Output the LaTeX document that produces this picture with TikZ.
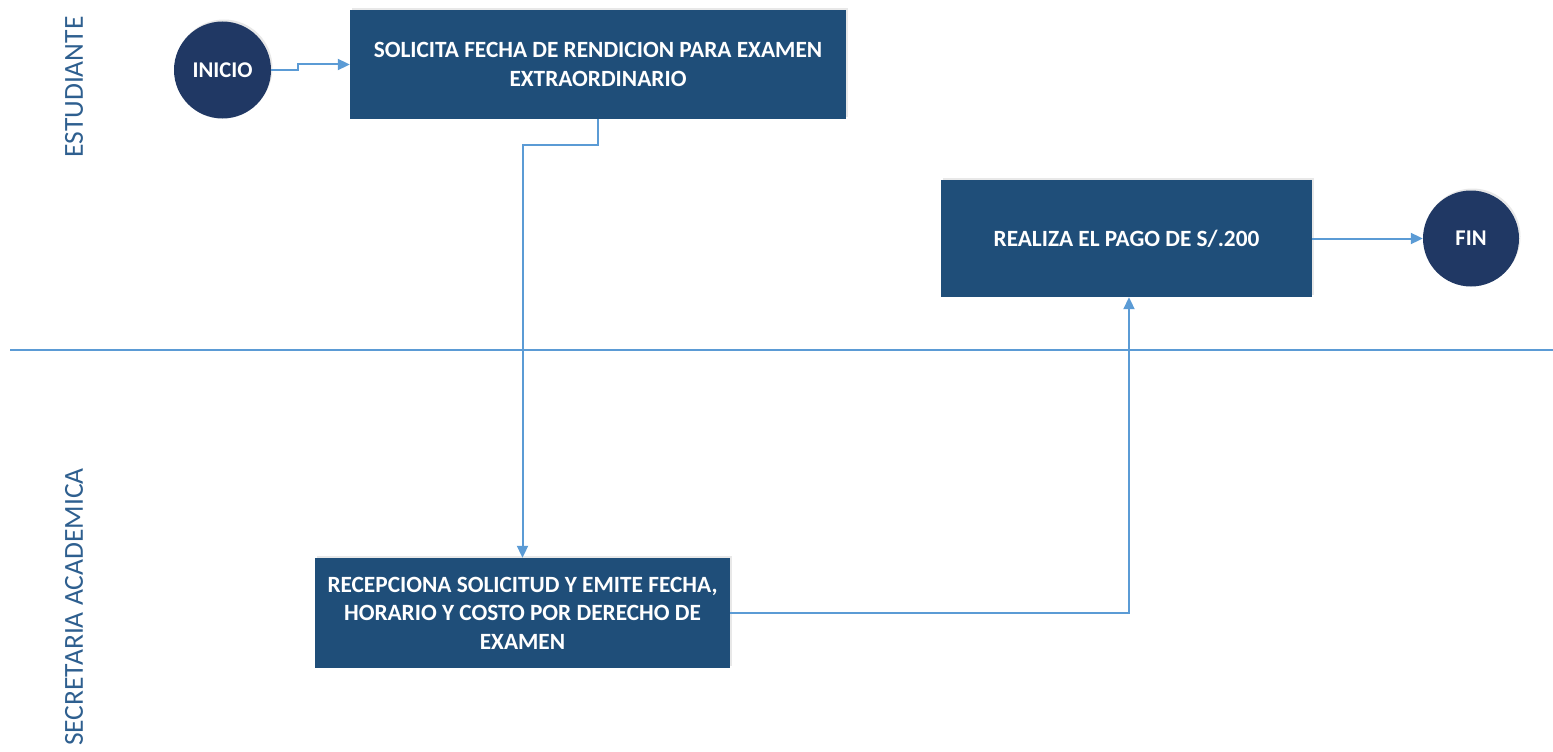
\documentclass[tikz,border=0pt]{standalone}
\usepackage{fontspec}
\setmainfont{Carlito}
\usetikzlibrary{arrows.meta,shadows}
\definecolor{boxblue}{HTML}{1F4E79}
\definecolor{termblue}{HTML}{203864}
\definecolor{linkblue}{HTML}{5B9BD5}
\definecolor{lanetext}{HTML}{2E5F8F}
\tikzset{
  procbox/.style={rectangle, fill=boxblue, text=white, align=center,
    font=\bfseries\fontsize{23.3}{28.5}\selectfont, inner sep=0pt,
    drop shadow={opacity=0.18, shadow xshift=1.5pt, shadow yshift=2pt}},
  terminal/.style={circle, fill=termblue, text=white, inner sep=0pt,
    font=\bfseries\fontsize{22.5}{24}\selectfont,
    drop shadow={opacity=0.18, shadow xshift=1.5pt, shadow yshift=2pt}},
  link/.style={draw=linkblue, line width=2pt,
    -{Triangle[length=12pt,width=11pt]}},
  lanelabel/.style={rotate=90, text=lanetext, font=\fontsize{27.5}{30}\selectfont},
  divider/.style={draw=linkblue, line width=2pt}
}
\begin{document}
\begin{tikzpicture}[x=1pt,y=-1pt]
  \useasboundingbox (0,0) rectangle (1553,752);

  % swimlane labels and separator
  \node[lanelabel] (lane1) at (74,87) {ESTUDIANTE};
  \node[lanelabel] (lane2) at (74,607) {SECRETARIA ACADEMICA};
  \coordinate (sepL) at (10,350);
  \coordinate (sepR) at (1553,350);
  \draw[divider] (sepL) -- (sepR);

  % flow elements
  \node[terminal, minimum size=97pt] (inicio) at (222.5,70) {INICIO};
  \node[procbox, minimum width=496pt, minimum height=109pt] (solicita) at (598,64.5)
    {SOLICITA FECHA DE RENDICION PARA EXAMEN\\EXTRAORDINARIO};
  \node[procbox, minimum width=371pt, minimum height=117pt] (pago) at (1126.5,238.5)
    {REALIZA EL PAGO DE S/.200};
  \node[terminal, minimum size=96pt] (fin) at (1471,238.5) {FIN};
  \node[procbox, minimum width=415pt, minimum height=110pt] (recep) at (522.5,613)
    {RECEPCIONA SOLICITUD Y EMITE FECHA,\\HORARIO Y COSTO POR DERECHO DE\\EXAMEN};

  % connectors
  \draw[link] (inicio.east) -- ++(27,0) |- (solicita.west);
  \draw[link] (solicita.south) -- ++(0,26) -| (recep.north);
  \draw[link] (recep.east) -| ([xshift=2.5pt]pago.south);
  \draw[link] (pago.east) -- (fin.west);
\end{tikzpicture}
\end{document}
